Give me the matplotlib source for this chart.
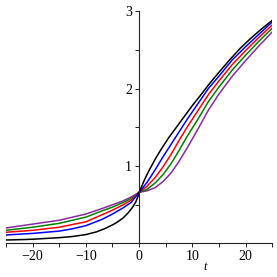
import matplotlib
matplotlib.use("Agg")
import matplotlib.pyplot as plt
from matplotlib.ticker import MultipleLocator

# values
t_black = [-25, -22, -20, -17.5, -15, -12.5, -10, -8, -6.5, -5, -4, -3, -2, -1.2, -0.6, -0.2, 0,
           0.5, 1, 1.7, 2.4, 3.2, 4, 5.5, 7, 8.5, 10, 11.5, 13.3, 15, 17, 19, 21, 23, 25]
black = [0.045, 0.05, 0.055, 0.065, 0.075, 0.09, 0.115, 0.15, 0.19, 0.24, 0.28, 0.33, 0.40, 0.47,
         0.54, 0.61, 0.66, 0.74, 0.82, 0.92, 1.01, 1.11, 1.20, 1.36, 1.50, 1.64, 1.78, 1.91, 2.07,
         2.21, 2.37, 2.52, 2.65, 2.77, 2.88]

t = [-25, -22.5, -20, -17.5, -15, -12.5, -10, -7, -5, -3, -1.5, 0, 1.5, 3, 4.5, 6, 7.5, 9, 11, 13,
     15, 17.5, 20, 22.5, 25]
blue = [0.11, 0.12, 0.13, 0.145, 0.16, 0.19, 0.23, 0.31, 0.38, 0.46, 0.53, 0.66, 0.79, 0.95, 1.12,
        1.28, 1.44, 1.60, 1.80, 2.00, 2.16, 2.37, 2.54, 2.70, 2.86]
red = [0.145, 0.157, 0.17, 0.19, 0.21, 0.245, 0.28, 0.37, 0.43, 0.50, 0.56, 0.66, 0.74, 0.85, 0.99,
       1.15, 1.33, 1.50, 1.71, 1.92, 2.10, 2.31, 2.49, 2.66, 2.82]
green = [0.17, 0.19, 0.21, 0.235, 0.26, 0.30, 0.34, 0.42, 0.47, 0.53, 0.58, 0.66, 0.70, 0.78, 0.89,
         1.03, 1.20, 1.38, 1.60, 1.83, 2.02, 2.24, 2.43, 2.61, 2.78]
purple = [0.20, 0.225, 0.25, 0.275, 0.30, 0.34, 0.38, 0.45, 0.50, 0.55, 0.60, 0.66, 0.68, 0.72, 0.80,
          0.91, 1.06, 1.23, 1.47, 1.72, 1.93, 2.16, 2.36, 2.55, 2.73]

series = [(t, purple), (t, green), (t, red), (t, blue), (t_black, black)]
colors = ["#8b2a9e", "#008000", "#ff0000", "#0000ff", "#000000"]

plt.rcParams['font.family'] = ['Liberation Serif', 'DejaVu Serif']

fig = plt.figure(figsize=(2.77, 2.77), dpi=100)
ax = fig.add_axes([0.0217, 0.121, 0.961, 0.839])

for (x, y), c in zip(series, colors):
    ax.plot(x, y, color=c, lw=1.1, solid_joinstyle='round')

ax.set_xlim(-25, 25)
ax.set_ylim(0, 3)

ax.spines['left'].set_position(('data', 0))
ax.spines['bottom'].set_position(('data', 0))
ax.spines['top'].set_visible(False)
ax.spines['right'].set_visible(False)
for s in ('left', 'bottom'):
    ax.spines[s].set_linewidth(0.8)
    ax.spines[s].set_color('#222222')

ax.xaxis.set_minor_locator(MultipleLocator(5))
ax.yaxis.set_minor_locator(MultipleLocator(0.5))
ax.set_yticks([1, 2, 3])
ax.set_xticks([-20, -10, 0, 10, 20])
ax.set_xticklabels(['\u221220', '\u221210', '0', '10', '20'])

ax.tick_params(which='both', direction='out', labelsize=10, width=0.7, color='#222222', pad=2)
ax.tick_params(which='both', length=3)

ax.set_xlabel('t', style='italic', fontsize=9)
ax.xaxis.set_label_coords(0.748, -0.075)

fig.savefig("out.png", dpi=100)
